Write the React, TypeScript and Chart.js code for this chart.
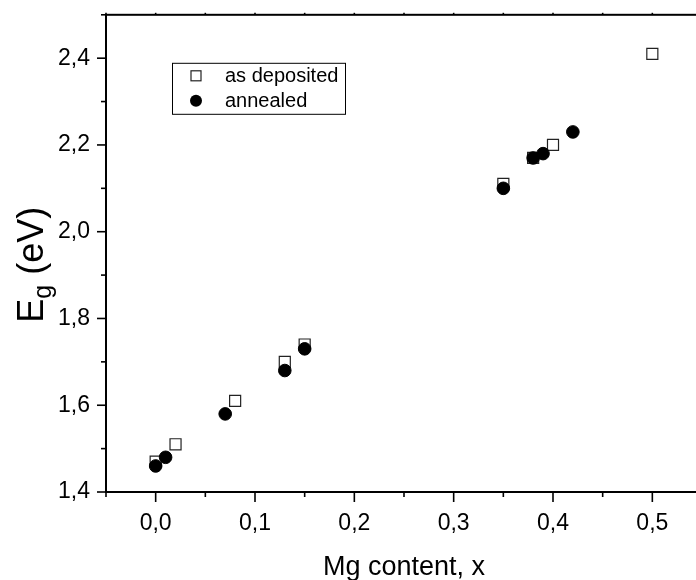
import React, { useEffect, useRef } from 'react';
import { Chart, registerables } from 'chart.js';

Chart.register(...registerables);

// Band gap vs. Mg content
const seriesNames = ['as deposited', 'annealed'];
const depositedX = [0.0, 0.02, 0.08, 0.13, 0.15, 0.35, 0.38, 0.4, 0.5];
const depositedEg = [1.47, 1.51, 1.61, 1.7, 1.74, 2.11, 2.17, 2.2, 2.41];
const annealedX = [0.0, 0.01, 0.07, 0.13, 0.15, 0.35, 0.38, 0.39, 0.42];
const annealedEg = [1.46, 1.48, 1.58, 1.68, 1.73, 2.1, 2.17, 2.18, 2.23];

const xTitle = 'Mg content, x';
const yTitleMain = 'E';
const yTitleSub = 'g';
const yTitleRest = ' (eV)';

const FONT = '"Liberation Sans", Arial, Helvetica, sans-serif';

const toComma = (v: number) => v.toFixed(1).replace('.', ',');

const toPoints = (xs: number[], ys: number[]) => xs.map((x, i) => ({ x, y: ys[i] }));

// Frame, tick marks, axis titles and the boxed legend
const decorPlugin = {
  id: 'decor',
  afterDraw(chart: any) {
    const { ctx, chartArea: a, scales } = chart;
    const xs = scales.x;
    const ys = scales.y;
    ctx.save();
    ctx.strokeStyle = '#000';
    ctx.lineWidth = 2;
    ctx.strokeRect(a.left, a.top, a.right - a.left, a.bottom - a.top);

    ctx.lineWidth = 1.6;
    const line = (x1: number, y1: number, x2: number, y2: number) => {
      ctx.beginPath();
      ctx.moveTo(x1, y1);
      ctx.lineTo(x2, y2);
      ctx.stroke();
    };
    ys.ticks.forEach((t: any) => {
      const p = ys.getPixelForValue(t.value);
      const len = t.label ? 9 : 5;
      line(a.left - len, p, a.left, p);
    });
    xs.ticks.forEach((t: any) => {
      const p = xs.getPixelForValue(t.value);
      const len = t.label ? 10 : 5;
      line(p, a.bottom, p, a.bottom + len);
      line(p, a.top, p, a.top - 2);
    });

    // x title
    ctx.fillStyle = '#000';
    ctx.font = `27px ${FONT}`;
    ctx.textAlign = 'center';
    ctx.textBaseline = 'alphabetic';
    ctx.fillText(xTitle, (a.left + a.right) / 2, a.bottom + 83);

    // y title with subscript
    const mainFont = `36px ${FONT}`;
    const subFont = `25px ${FONT}`;
    ctx.font = mainFont;
    const wMain = ctx.measureText(yTitleMain).width;
    const wRest = ctx.measureText(yTitleRest).width;
    ctx.font = subFont;
    const wSub = ctx.measureText(yTitleSub).width;
    const total = wMain + wSub + wRest;
    ctx.translate(a.left - 63, a.top + 250);
    ctx.rotate(-Math.PI / 2);
    ctx.textAlign = 'left';
    let cx = -total / 2;
    ctx.font = mainFont;
    ctx.fillText(yTitleMain, cx, 0);
    cx += wMain;
    ctx.font = subFont;
    ctx.fillText(yTitleSub, cx, 8);
    cx += wSub;
    ctx.font = mainFont;
    ctx.fillText(yTitleRest, cx, 0);
    ctx.setTransform(1, 0, 0, 1, 0, 0);

    // legend
    const bx = a.left + 66;
    const by = a.top + 48;
    const bw = 173;
    const bh = 51;
    ctx.lineWidth = 1;
    ctx.strokeStyle = '#000';
    ctx.strokeRect(bx + 0.5, by + 0.5, bw, bh);
    ctx.font = `20px ${FONT}`;
    ctx.textAlign = 'left';
    ctx.textBaseline = 'middle';
    chart.data.datasets.forEach((ds: any, i: number) => {
      const my = by + 13 + i * 25;
      const mx = bx + 24;
      if (ds.pointStyle === 'rect') {
        ctx.fillStyle = ds.pointBackgroundColor;
        ctx.strokeStyle = ds.pointBorderColor;
        ctx.lineWidth = 1.2;
        ctx.fillRect(mx - 5, my - 5, 10, 10);
        ctx.strokeRect(mx - 5, my - 5, 10, 10);
      } else {
        ctx.fillStyle = ds.pointBackgroundColor;
        ctx.beginPath();
        ctx.arc(mx, my, 6, 0, Math.PI * 2);
        ctx.fill();
      }
      ctx.fillStyle = '#000';
      ctx.fillText(ds.label, bx + 53, my + 1);
    });
    ctx.restore();
  },
};

export default function App() {
  const canvasRef = useRef<HTMLCanvasElement | null>(null);

  useEffect(() => {
    document.body.style.margin = '0';
    const canvas = canvasRef.current;
    if (!canvas) return;
    const chart = new Chart(canvas, {
      type: 'scatter',
      data: {
        datasets: [
          {
            label: seriesNames[0],
            data: toPoints(depositedX, depositedEg),
            pointStyle: 'rect',
            pointRadius: 7.8,
            pointBackgroundColor: '#ffffff',
            pointBorderColor: '#222222',
            pointBorderWidth: 1.2,
            order: 1,
          } as any,
          {
            label: seriesNames[1],
            data: toPoints(annealedX, annealedEg),
            pointStyle: 'circle',
            pointRadius: 6.3,
            pointBackgroundColor: '#000000',
            pointBorderColor: '#000000',
            pointBorderWidth: 1,
            order: 0,
          } as any,
        ],
      },
      options: {
        responsive: false,
        animation: false,
        events: [],
        layout: { padding: { top: 0.3, right: 18, left: 0, bottom: 0 } },
        plugins: { legend: { display: false }, tooltip: { enabled: false } },
        scales: {
          x: {
            type: 'linear',
            min: -0.05,
            max: 0.55,
            afterFit: (s: any) => {
              s.height = 88;
            },
            grid: { display: false },
            border: { display: false },
            ticks: {
              stepSize: 0.05,
              autoSkip: false,
              maxRotation: 0,
              padding: 10,
              color: '#000',
              font: { family: FONT, size: 23 },
              callback: (v: any) => {
                const n = Math.round(Number(v) * 100);
                return n % 10 === 0 ? toComma(n / 100) : '';
              },
            },
          },
          y: {
            type: 'linear',
            min: 1.4,
            max: 2.5,
            afterFit: (s: any) => {
              s.width = 106;
            },
            grid: { display: false },
            border: { display: false },
            ticks: {
              stepSize: 0.1,
              autoSkip: false,
              padding: 8,
              color: '#000',
              font: { family: FONT, size: 23 },
              callback: (v: any) => {
                const n = Math.round(Number(v) * 10);
                return n % 2 === 0 ? toComma(n / 10) : '';
              },
            },
          },
        },
      },
      plugins: [decorPlugin],
    });
    return () => chart.destroy();
  }, []);

  return (
    <div style={{ position: 'fixed', left: 0, top: 0, width: 696, height: 580, overflow: 'hidden', background: '#fff' }}>
      <canvas ref={canvasRef} width={720} height={587} style={{ display: 'block', marginTop: -7 }} />
    </div>
  );
}
